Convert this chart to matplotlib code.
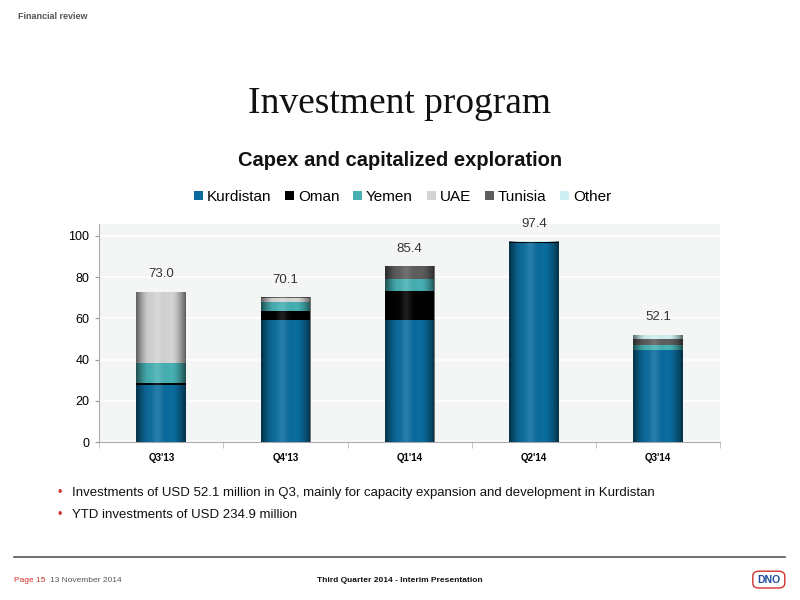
import numpy as np
import matplotlib
matplotlib.use("Agg")
import matplotlib.pyplot as plt
from matplotlib.patches import FancyBboxPatch

# data (USD million)
quarters = ["Q3'13", "Q4'13", "Q1'14", "Q2'14", "Q3'14"]
kurdistan = [27.7, 59.2, 59.2, 96.4, 44.7]
oman = [0.9, 4.3, 13.9, 0.8, 0.0]
yemen = [9.7, 4.6, 6.1, 0.0, 2.6]
uae = [34.6, 1.6, 0.0, 0.0, 0.0]
tunisia = [0.0, 0.4, 6.2, 0.0, 2.5]
other = [0.1, 0.0, 0.0, 0.2, 2.3]
totals = [73.0, 70.1, 85.4, 97.4, 52.1]

series_names = ["Kurdistan", "Oman", "Yemen", "UAE", "Tunisia", "Other"]
series_vals = [kurdistan, oman, yemen, uae, tunisia, other]
colors = ["#0A6C9E", "#000000", "#46B0B3", "#D4D4D4", "#5E5E5E", "#CFF0F2"]

bullets = [
    "Investments of USD 52.1 million in Q3, mainly for capacity expansion and development in Kurdistan",
    "YTD investments of USD 234.9 million",
]

plt.rcParams['font.family'] = ['Liberation Sans', 'DejaVu Sans']

fig = plt.figure(figsize=(8, 6), dpi=100)
fig.patch.set_facecolor("white")

ax = fig.add_axes([0.124, 0.263, 0.776, 0.364])
ax.set_facecolor("#F4F6F6")

x = np.arange(len(quarters))
bottom = np.zeros(len(quarters))
# horizontal shading to mimic the cylinder look of the bars
pos = np.linspace(-1, 1, 64)
dark = np.clip((np.abs(pos) - 0.45) / 0.55, 0, 1) ** 1.5
light = np.exp(-((pos + 0.15) / 0.3) ** 2)
grad = np.zeros((1, 64, 4))
grad[..., :3] = light[None, :, None] * np.ones(3)
grad[..., 3] = dark * 0.55 + light * 0.12

for name, vals, col in zip(series_names, series_vals, colors):
    bars = ax.bar(x, vals, width=0.4, bottom=bottom, color=col, label=name,
                  zorder=3, linewidth=0)
    for b in bars:
        if b.get_height() <= 0:
            continue
        im = ax.imshow(grad, extent=[b.get_x(), b.get_x() + b.get_width(),
                                     b.get_y(), b.get_y() + b.get_height()],
                       aspect="auto", zorder=4, interpolation="bilinear")
        im.set_clip_path(b)
    bottom += np.array(vals)

for xi, t, top in zip(x, totals, bottom):
    ax.text(xi, top + 5.5, f"{t:.1f}", ha="center", va="bottom", fontsize=9.5,
            color="#333333", zorder=5)

ax.set_xlim(-0.5, len(quarters) - 0.5)
ax.set_ylim(0, 105.8)
ax.set_yticks(range(0, 101, 20))
ax.yaxis.grid(True, color="white", linewidth=1.2, zorder=0)
ax.set_axisbelow(True)
ax.set_xticks(x)
ax.set_xticklabels(quarters, fontsize=7, fontweight="bold")
ax.set_xticks(np.arange(-0.5, len(quarters), 1), minor=True)
ax.tick_params(axis="x", which="major", length=0, pad=8)
ax.tick_params(axis="x", which="minor", length=4, color="#BBBBBB")
ax.tick_params(axis="y", labelsize=9, length=3, color="#999999", pad=4)
for s in ["top", "right"]:
    ax.spines[s].set_visible(False)
ax.spines["left"].set_color("#AAAAAA")
ax.spines["bottom"].set_color("#AAAAAA")

leg = fig.legend(loc="center", bbox_to_anchor=(0.503, 0.672), ncol=6, frameon=False,
                 fontsize=11, handlelength=0.6, handleheight=0.6,
                 handletextpad=0.25, columnspacing=0.9)

# slide texts
fig.text(0.022, 0.973, "Financial review", fontsize=6.5, fontweight="bold",
         color="#555555", va="center")
fig.text(0.5, 0.827, "Investment program", fontsize=27, ha="center", va="center",
         family=["Liberation Serif", "DejaVu Serif"], color="#111111")
fig.text(0.5, 0.732, "Capex and capitalized exploration", fontsize=14.5,
         fontweight="bold", ha="center", va="center", color="#111111")

for i, line in enumerate(bullets):
    yy = 0.178 - i * 0.037
    fig.text(0.072, yy, "\u2022", color="#D0312D", fontsize=9, va="center")
    fig.text(0.09, yy, line, fontsize=9.5, va="center", color="#111111")

fig.add_artist(plt.Line2D([0.018, 0.981], [0.072, 0.072], color="#555555",
                          linewidth=1.2, transform=fig.transFigure))
fig.text(0.018, 0.033, "Page 15", fontsize=6, color="#D0312D", va="center")
fig.text(0.062, 0.033, "13 November 2014", fontsize=6, color="#555555", va="center")
fig.text(0.5, 0.033, "Third Quarter 2014 - Interim Presentation", fontsize=6,
         fontweight="bold", ha="center", va="center", color="#111111")
logo = FancyBboxPatch((0.943, 0.022), 0.036, 0.024, boxstyle="round,pad=0.002,rounding_size=0.008",
                      transform=fig.transFigure, facecolor="white",
                      edgecolor="#D0312D", linewidth=1)
fig.add_artist(logo)
fig.text(0.961, 0.034, "DNO", fontsize=7.5, fontweight="bold", color="#1F4E9A",
         ha="center", va="center")

fig.savefig("out.png", dpi=100)
